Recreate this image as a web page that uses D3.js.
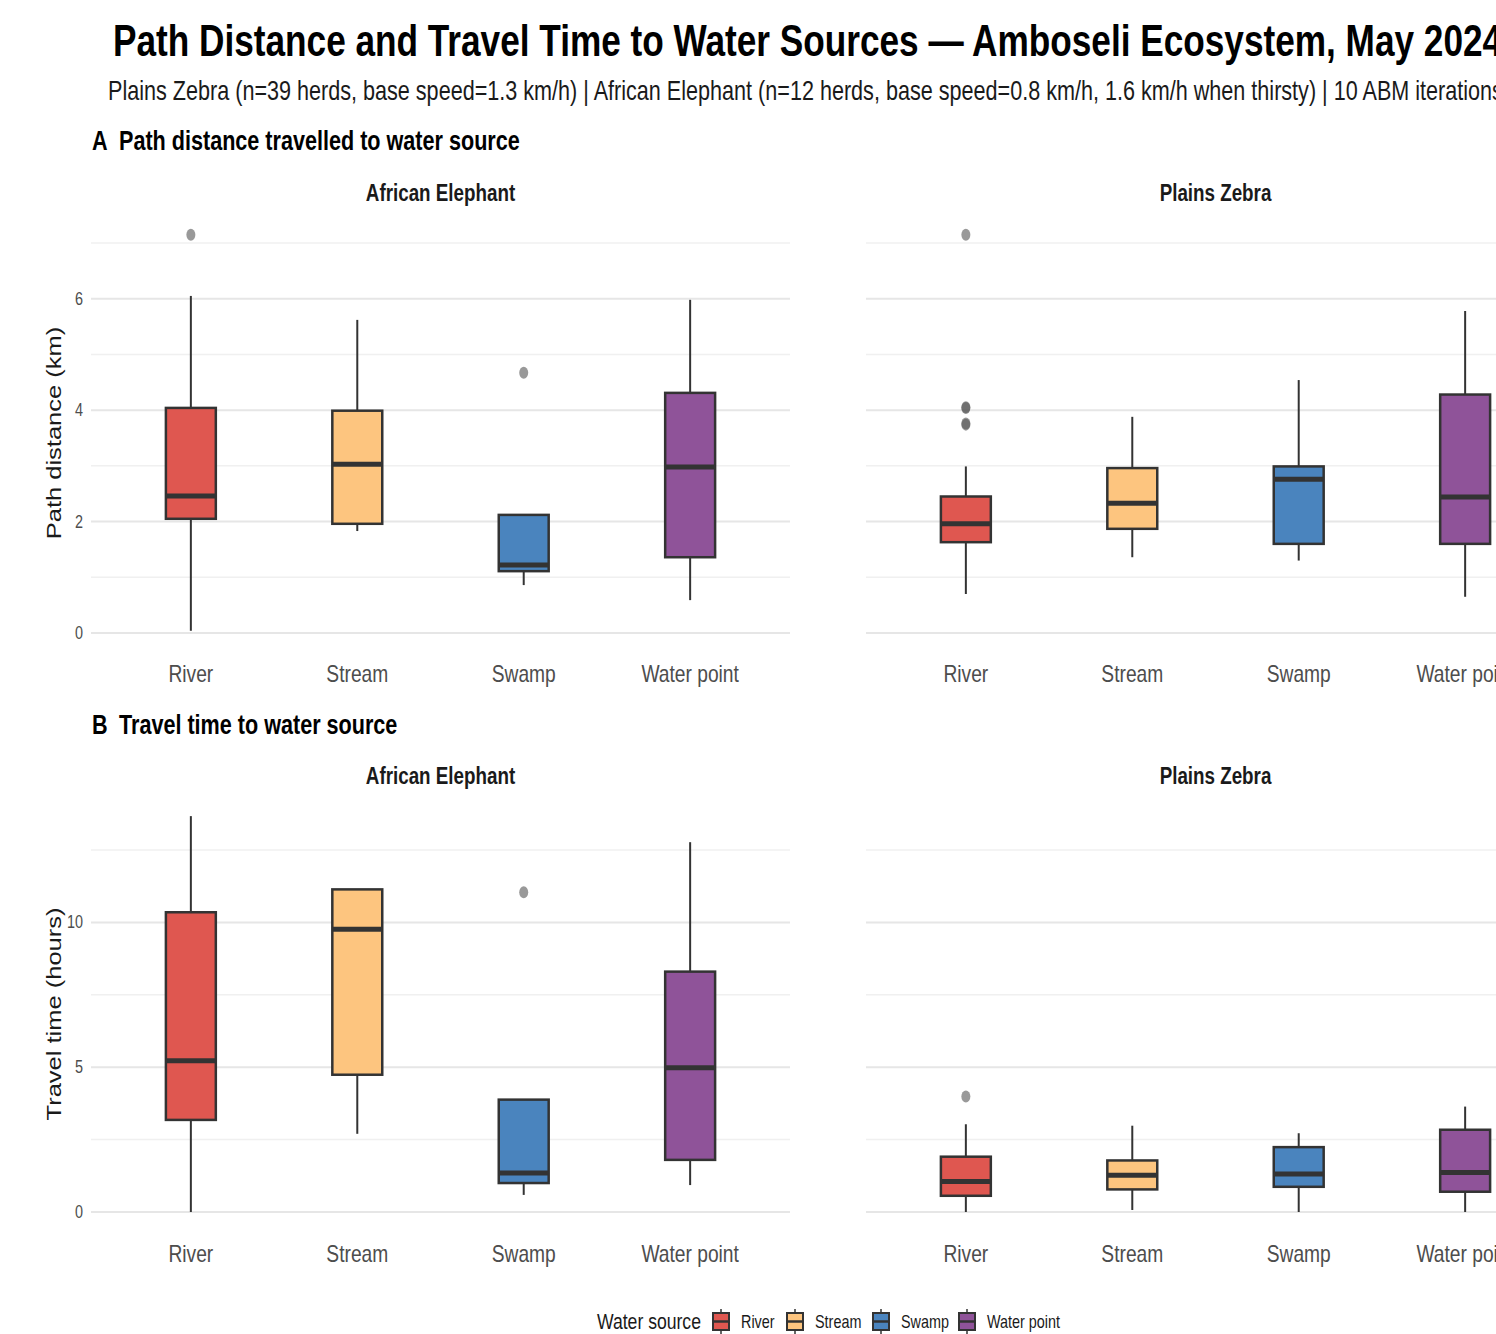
<!DOCTYPE html>
<html>
<head>
<meta charset="utf-8">
<script src="https://cdn.jsdelivr.net/npm/d3@7"></script>
<style>
  body { margin: 0; background: #fff; }
  svg { display: block; }
</style>
</head>
<body>
<div id="chart"></div>
<script>
// categories and groups
const sources = ["River", "Stream", "Swamp", "Water point"];
const species = ["African Elephant", "Plains Zebra"];
const sourceColors = ["#DF5750", "#FDC57F", "#4A84BE", "#8F5399"];

// box stats per source: [lower whisker, q1, median, q3, upper whisker]
const distElephant = [[0.04, 2.05, 2.46, 4.04, 6.05], [1.83, 1.96, 3.03, 3.99, 5.62], [0.86, 1.11, 1.22, 2.12, 2.12], [0.59, 1.36, 2.98, 4.31, 5.98]];
const distElephantOut = [[7.15], [], [4.67], []];
const distZebra = [[0.70, 1.63, 1.96, 2.45, 2.99], [1.36, 1.87, 2.33, 2.96, 3.88], [1.30, 1.60, 2.76, 2.99, 4.54], [0.65, 1.60, 2.44, 4.28, 5.78]];
const distZebraOut = [[7.15, 4.05, 4.04, 3.76, 3.74], [], [], []];

const timeElephant = [[0.0, 3.18, 5.22, 10.35, 13.67], [2.70, 4.74, 9.76, 11.14, 11.14], [0.59, 1.00, 1.35, 3.88, 3.88], [0.93, 1.80, 4.98, 8.30, 12.77]];
const timeElephantOut = [[], [], [11.04], []];
const timeZebra = [[0.0, 0.56, 1.05, 1.91, 3.03], [0.07, 0.78, 1.27, 1.78, 2.98], [0.0, 0.87, 1.31, 2.24, 2.72], [0.0, 0.70, 1.36, 2.84, 3.64]];
const timeZebraOut = [[3.99], [], [], []];

// axis ticks
const distTicks = [0, 2, 4, 6];
const distMinor = [1, 3, 5, 7];
const timeTicks = [0, 5, 10];
const timeMinor = [2.5, 7.5, 12.5];

const W = 1496, H = 1334;
const SX = 0.8; // horizontal squeeze of text
const FONT = "'Liberation Sans', Arial, sans-serif";

const svg = d3.select("#chart").append("svg")
  .attr("width", W)
  .attr("height", H)
  .style("font-family", FONT);

function txt(x, y, str, size, opts = {}) {
  return svg.append("text")
    .attr("transform", `translate(${x},${y}) scale(${SX},1)` + (opts.rotate ? " rotate(-90)" : ""))
    .attr("text-anchor", opts.anchor || "start")
    .attr("font-size", size)
    .attr("font-weight", opts.bold ? "bold" : "normal")
    .attr("fill", opts.fill || "#000")
    .text(str);
}

// titles (the plot is wider than the window, so these run off the right edge)
txt(113, 56, "Path Distance and Travel Time to Water Sources \u2014 Amboseli Ecosystem, May 2024", 44, {bold: true});
txt(108, 100, "Plains Zebra (n=39 herds, base speed=1.3 km/h) | African Elephant (n=12 herds, base speed=0.8 km/h, 1.6 km/h when thirsty) | 10 ABM iterations", 27, {fill: "#1a1a1a"});

const panelX = [[91, 790], [866, 1565]];

function drawRow(cfg) {
  const y = d3.scaleLinear().domain(cfg.domain).range(cfg.range);

  txt(92, cfg.headY, cfg.tag, 27, {bold: true});
  txt(119, cfg.headY, cfg.head, 27, {bold: true});

  // y axis title
  txt(61, cfg.titleY, cfg.yTitle, 25.5, {rotate: true, anchor: "middle", fill: "#1a1a1a"});

  // y tick labels (left panel only)
  cfg.ticks.forEach(t => {
    txt(83, y(t) + 6, d3.format("d")(t), 18, {anchor: "end", fill: "#4d4d4d"});
  });

  species.forEach((sp, si) => {
    const x = d3.scalePoint().domain(sources).range(panelX[si]).padding(0.6);
    const step = x.step();
    const bw = step * 0.3;
    const g = svg.append("g");

    // grid
    g.selectAll(".minor").data(cfg.minor).join("line")
      .attr("x1", panelX[si][0]).attr("x2", panelX[si][1])
      .attr("y1", d => y(d)).attr("y2", d => y(d))
      .attr("stroke", "#f0f0f0").attr("stroke-width", 1.5);
    g.selectAll(".major").data(cfg.ticks).join("line")
      .attr("x1", panelX[si][0]).attr("x2", panelX[si][1])
      .attr("y1", d => y(d)).attr("y2", d => y(d))
      .attr("stroke", "#e6e6e6").attr("stroke-width", 2);

    // strip label
    txt((panelX[si][0] + panelX[si][1]) / 2, cfg.stripY, sp, 23.5, {bold: true, anchor: "middle", fill: "#1a1a1a"});

    const stats = cfg.stats[si];
    const outs = cfg.outs[si];

    sources.forEach((src, i) => {
      const [lo, q1, med, q3, hi] = stats[i];
      const cx = x(src);
      // whiskers
      g.append("line").attr("x1", cx).attr("x2", cx).attr("y1", y(hi)).attr("y2", y(q3))
        .attr("stroke", "#333").attr("stroke-width", 2);
      g.append("line").attr("x1", cx).attr("x2", cx).attr("y1", y(q1)).attr("y2", y(lo))
        .attr("stroke", "#333").attr("stroke-width", 2);
      // box
      g.append("rect")
        .attr("x", cx - bw / 2).attr("width", bw)
        .attr("y", y(q3)).attr("height", y(q1) - y(q3))
        .attr("fill", sourceColors[i])
        .attr("stroke", "#333").attr("stroke-width", 2.5);
      // median
      g.append("line").attr("x1", cx - bw / 2).attr("x2", cx + bw / 2)
        .attr("y1", y(med)).attr("y2", y(med))
        .attr("stroke", "#333").attr("stroke-width", 5);
      // outliers
      g.selectAll(null).data(outs[i]).join("ellipse")
        .attr("cx", cx).attr("cy", d => y(d))
        .attr("rx", 4.5).attr("ry", 6)
        .attr("fill", "#555").attr("fill-opacity", 0.6);

      // x label
      txt(cx, cfg.labelY, src, 24, {anchor: "middle", fill: "#4d4d4d"});
    });
  });
}

drawRow({
  tag: "A", head: "Path distance travelled to water source", headY: 150,
  stripY: 201, labelY: 682, titleY: 433,
  yTitle: "Path distance (km)",
  domain: [0, 7], range: [633, 243],
  ticks: distTicks, minor: distMinor,
  stats: [distElephant, distZebra], outs: [distElephantOut, distZebraOut]
});

drawRow({
  tag: "B", head: "Travel time to water source", headY: 734,
  stripY: 784, labelY: 1262, titleY: 1014,
  yTitle: "Travel time (hours)",
  domain: [0, 12.5], range: [1212, 850],
  ticks: timeTicks, minor: timeMinor,
  stats: [timeElephant, timeZebra], outs: [timeElephantOut, timeZebraOut]
});

// legend
txt(597, 1329, "Water source", 22, {fill: "#1a1a1a"});
const keyX = [712, 786, 872, 958];
sources.forEach((src, i) => {
  const kx = keyX[i];
  const lg = svg.append("g");
  lg.append("line").attr("x1", kx + 9).attr("x2", kx + 9).attr("y1", 1309).attr("y2", 1334)
    .attr("stroke", "#333").attr("stroke-width", 1.5);
  lg.append("rect").attr("x", kx + 1).attr("y", 1313).attr("width", 16).attr("height", 17)
    .attr("fill", sourceColors[i]).attr("stroke", "#333").attr("stroke-width", 2);
  lg.append("line").attr("x1", kx + 1).attr("x2", kx + 17).attr("y1", 1321.5).attr("y2", 1321.5)
    .attr("stroke", "#333").attr("stroke-width", 2.5);
  txt(kx + 29, 1328, src, 18, {fill: "#1a1a1a"});
});
</script>
</body>
</html>
